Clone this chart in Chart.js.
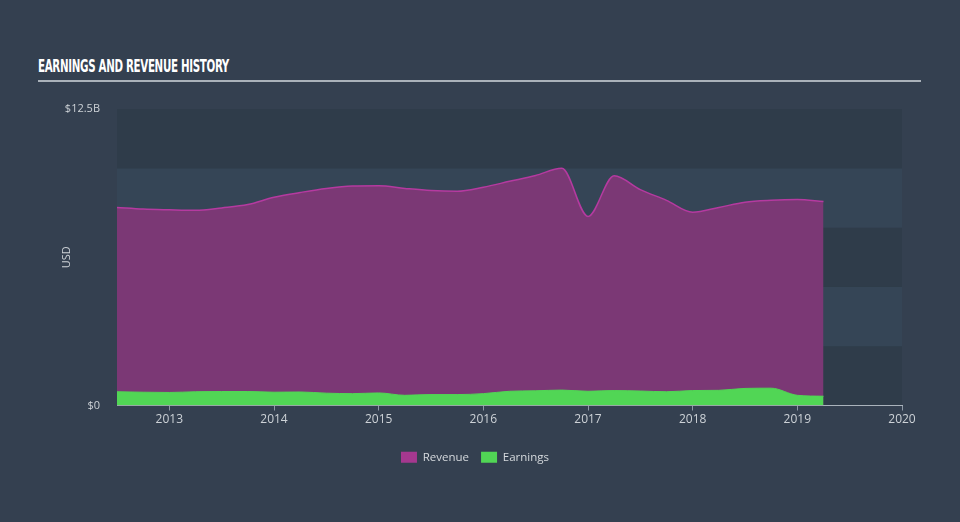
<!DOCTYPE html>
<html>
<head>
<meta charset="utf-8">
<script src="https://cdn.jsdelivr.net/npm/chart.js@4"></script>
<style>
  html, body { margin: 0; padding: 0; background: #344050; }
  #wrap { position: relative; width: 960px; height: 522px; }
  #heading {
    position: absolute; left: 38px; top: 56px; width: 883px;
    border-bottom: 2px solid #aab2ba; height: 24px;
  }
  #heading span {
    display: inline-block; transform-origin: left center;
    font-family: "DejaVu Sans Condensed", "DejaVu Sans"; font-weight: bold;
    font-size: 17px; color: #ffffff; white-space: nowrap; letter-spacing: -0.5px;
  }
  canvas { position: absolute; left: 0; top: 0; }
</style>
</head>
<body>
<div id="wrap">
  <div id="heading"><span id="title">EARNINGS AND REVENUE HISTORY</span></div>
  <canvas id="chart" width="960" height="522"></canvas>
</div>
<script>
// quarterly points, as decimal years
const quarters = [
  2012.5, 2012.75, 2013.0, 2013.25, 2013.5, 2013.75,
  2014.0, 2014.25, 2014.5, 2014.75, 2015.0, 2015.25,
  2015.5, 2015.75, 2016.0, 2016.25, 2016.5, 2016.75,
  2017.0, 2017.25, 2017.5, 2017.75, 2018.0, 2018.25,
  2018.5, 2018.75, 2019.0, 2019.25
];
// values in billions USD
const revenue = [
  8.35, 8.28, 8.25, 8.23, 8.33, 8.47,
  8.78, 8.98, 9.15, 9.25, 9.26, 9.15,
  9.06, 9.03, 9.2, 9.45, 9.7, 10.0,
  7.97, 9.69, 9.1, 8.65, 8.15, 8.35,
  8.57, 8.65, 8.68, 8.6
];
const earnings = [
  0.58, 0.56, 0.55, 0.58, 0.59, 0.59,
  0.56, 0.57, 0.52, 0.5, 0.53, 0.43,
  0.46, 0.46, 0.5, 0.6, 0.62, 0.65,
  0.6, 0.63, 0.61, 0.58, 0.63, 0.64,
  0.72, 0.73, 0.43, 0.39
];
const yearTicks = [2013, 2014, 2015, 2016, 2017, 2018, 2019, 2020];
const valueTicks = [0, 12.5];
const bandStep = 2.5;

const legendColors = ["#a5388f", "#51d655"];

// scale the condensed heading to the width of the original
const t = document.getElementById("title");
t.style.transform = "scaleX(" + (191 / t.getBoundingClientRect().width) + ")";

const bands = {
  id: "bands",
  beforeDraw(chart) {
    const { ctx, chartArea, scales } = chart;
    const y = scales.y;
    ctx.save();
    for (let i = 0; i * bandStep < y.max; i++) {
      const bottom = y.getPixelForValue(i * bandStep);
      const top = y.getPixelForValue((i + 1) * bandStep);
      ctx.fillStyle = i % 2 === 0 ? "#2f3c4a" : "#354556";
      ctx.fillRect(chartArea.left, top, chartArea.right - chartArea.left, bottom - top);
    }
    ctx.restore();
  }
};

const ctx = document.getElementById("chart").getContext("2d");
new Chart(ctx, {
  type: "line",
  data: {
    datasets: [
      {
        label: "Revenue",
        data: quarters.map((q, i) => ({ x: q, y: revenue[i] })),
        borderColor: "#b53aa0",
        backgroundColor: "#7b3875",
        borderWidth: 1.5,
        fill: "origin",
        pointRadius: 0,
        cubicInterpolationMode: "monotone",
        order: 2
      },
      {
        label: "Earnings",
        data: quarters.map((q, i) => ({ x: q, y: earnings[i] })),
        borderColor: "#51d655",
        backgroundColor: "#51d655",
        borderWidth: 1,
        fill: "origin",
        pointRadius: 0,
        cubicInterpolationMode: "monotone",
        order: 1
      }
    ]
  },
  options: {
    responsive: false,
    animation: false,
    layout: { padding: { left: 48, right: 58, top: 109, bottom: 49 } },
    plugins: {
      tooltip: { enabled: false },
      legend: {
        position: "bottom",
        labels: {
          color: "#d5d9dd",
          font: { family: "Open Sans", size: 11.5 },
          boxWidth: 16,
          boxHeight: 11,
          padding: 12,
          sort: (a, b) => a.datasetIndex - b.datasetIndex,
          generateLabels(chart) {
            const items = Chart.defaults.plugins.legend.labels.generateLabels(chart);
            items.forEach((it) => {
              it.fillStyle = legendColors[it.datasetIndex];
              it.strokeStyle = legendColors[it.datasetIndex];
              it.lineWidth = 0;
            });
            return items;
          }
        }
      }
    },
    scales: {
      x: {
        type: "linear",
        min: 2012.5,
        max: 2020,
        afterBuildTicks: (axis) => { axis.ticks = yearTicks.map((v) => ({ value: v })); },
        afterFit: (axis) => { axis.height = 34; },
        ticks: {
          color: "#cdd2d7",
          font: { family: "Open Sans", size: 12 },
          padding: 2,
          callback: (v) => String(v)
        },
        grid: { drawOnChartArea: false, drawTicks: true, tickLength: 5, color: "#8e99a5" },
        border: { display: true, color: "#aab3bc", width: 1 }
      },
      y: {
        min: 0,
        max: 12.5,
        afterBuildTicks: (axis) => { axis.ticks = valueTicks.map((v) => ({ value: v })); },
        afterFit: (axis) => { axis.width = 69; },
        ticks: {
          color: "#cdd2d7",
          font: { family: "Open Sans", size: 11 },
          padding: 9,
          callback: (v) => (v === 0 ? "$0" : "$" + v + "B")
        },
        grid: { display: false },
        border: { display: false },
        title: {
          display: true,
          text: "USD",
          color: "#cdd2d7",
          font: { family: "Open Sans", size: 11 },
          padding: { top: 12, bottom: 0 }
        }
      }
    }
  },
  plugins: [bands]
});
</script>
</body>
</html>
